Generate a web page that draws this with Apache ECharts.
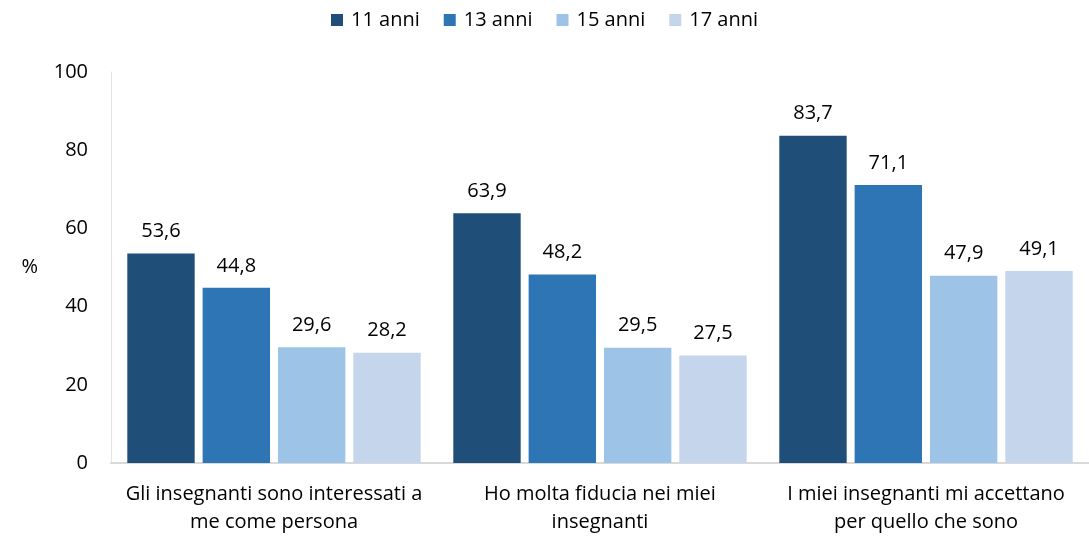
<!doctype html>
<html>
<head>
<meta charset="utf-8">
<title>Insegnanti</title>
<script src="https://cdn.jsdelivr.net/npm/echarts@6/dist/echarts.min.js"></script>
<style>
	html, body { margin: 0; padding: 0; background: #fff; }
	#chart { width: 1089px; height: 540px; }
</style>
</head>
<body>
<div id="chart"></div>
<script>
	var categories = [
		"Gli insegnanti sono interessati a\nme come persona",
		"Ho molta fiducia nei miei\ninsegnanti",
		"I miei insegnanti mi accettano\nper quello che sono"
	];
	var seriesNames = ["11 anni", "13 anni", "15 anni", "17 anni"];
	var anni11 = [53.6, 63.9, 83.7];
	var anni13 = [44.8, 48.2, 71.1];
	var anni15 = [29.6, 29.5, 47.9];
	var anni17 = [28.2, 27.5, 49.1];
	var yTicks = [0, 20, 40, 60, 80, 100];

	var colors = ["#1f4e79", "#2e75b6", "#9dc3e6", "#c5d5eb"];
	var values = [anni11, anni13, anni15, anni17];
	var font = "'Open Sans', 'Noto Sans', sans-serif";

	var chart = echarts.init(document.getElementById("chart"));

	var series = seriesNames.map(function(name, i) {
		return {
			name: name,
			type: "bar",
			barGap: "11.8%",
			barCategoryGap: "10%",
			itemStyle: { color: colors[i] },
			label: {
				show: true,
				position: "top",
				distance: 12,
				color: "#000",
				fontFamily: font,
				fontSize: 20,
				formatter: function(p) {
					return p.value.toFixed(1).replace(".", ",");
				}
			},
			data: values[i]
		};
	});

	chart.setOption({
		animation: false,
		color: colors,
		legend: {
			top: 5,
			left: "center",
			itemWidth: 12,
			itemHeight: 12,
			itemGap: 24,
			icon: "rect",
			textStyle: { fontFamily: font, fontSize: 20, color: "#000", padding: [0, 0, 0, 3] },
			data: seriesNames
		},
		grid: {
			left: 111,
			width: 981,
			top: 72,
			bottom: 77
		},
		xAxis: {
			type: "category",
			data: categories,
			axisTick: { show: false },
			axisLine: { show: true, lineStyle: { color: "#d9d9d9", width: 2 } },
			axisLabel: {
				margin: 17,
				color: "#000",
				fontFamily: font,
				fontSize: 20,
				lineHeight: 28,
				interval: 0
			}
		},
		yAxis: {
			type: "value",
			min: yTicks[0],
			max: yTicks[yTicks.length - 1],
			interval: 20,
			name: "%",
			nameLocation: "middle",
			nameRotate: 0,
			nameGap: 73,
			nameTextStyle: { fontFamily: font, fontSize: 20, color: "#000" },
			splitLine: { show: false },
			axisTick: { show: false },
			axisLine: { show: true, lineStyle: { color: "#e3e3e3", width: 1 } },
			axisLabel: {
				margin: 23,
				color: "#000",
				fontFamily: font,
				fontSize: 20
			}
		},
		series: series
	});
</script>
</body>
</html>
